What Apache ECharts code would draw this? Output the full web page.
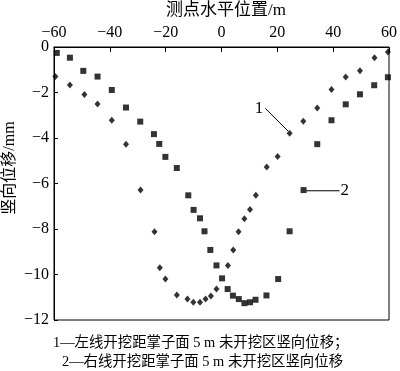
<!DOCTYPE html>
<html><head><meta charset="utf-8">
<script src="https://cdn.jsdelivr.net/npm/echarts@6/dist/echarts.min.js"></script>
<style>html,body{margin:0;padding:0;background:#fff}#c{width:400px;height:371px}</style>
</head><body><div id="c"></div>
<script>
var xLeft = [-59.5,-54.3,-49.1,-44.4,-39.3,-34.2,-29.0,-24.0,-22.1,-20.1,-16.0,-12.2,-10.1,-7.7,-5.7,-3.8,-1.8,2.3,4.2,6.1,8.2,10.2,12.3,16.2,20.1,24.4,29.3,34.3,39.4,44.5,49.6,54.8,59.6];
var yLeft = [-1.30,-1.67,-2.09,-2.50,-3.22,-4.27,-6.29,-8.12,-9.70,-10.20,-10.90,-11.08,-11.22,-11.22,-11.08,-10.95,-10.64,-9.60,-8.92,-8.12,-7.55,-7.14,-6.52,-5.28,-4.81,-3.79,-3.26,-2.68,-1.87,-1.32,-1.04,-0.47,-0.22];
var xRight = [-59.0,-54.3,-49.5,-44.4,-39.3,-34.2,-29.1,-24.2,-22.3,-20.1,-16.0,-11.9,-10.0,-7.7,-6.1,-4.0,-1.8,0.2,2.2,4.1,6.2,8.2,10.2,12.2,16.1,20.3,24.4,29.4,34.3,39.4,44.5,49.6,54.7,59.6];
var yRight = [-0.26,-0.47,-1.05,-1.30,-1.89,-2.66,-3.28,-3.83,-4.26,-4.83,-5.32,-6.52,-7.16,-7.53,-8.10,-8.92,-9.60,-10.17,-10.64,-10.93,-11.08,-11.26,-11.22,-11.11,-10.92,-10.20,-8.10,-6.29,-4.27,-3.22,-2.52,-2.08,-1.68,-1.33];
var xTicks = [-60,-40,-20,0,20,40,60];
var yTicks = [0,-2,-4,-6,-8,-10,-12];
var xName = '测点水平位置/m';
var yName = '竖向位移/mm';
var captions = ['1—左线开挖距掌子面 5 m 未开挖区竖向位移；','2—右线开挖距掌子面 5 m 未开挖区竖向位移'];
var seriesLabels = ['1','2'];

var FONT = "Liberation Serif, Noto Sans CJK SC, serif";
function zip(a,b){return a.map(function(v,i){return [v,b[i]];});}
function fmt(v){return String(v).replace('-','\u2212');}

var chart = echarts.init(document.getElementById('c'));
chart.setOption({
  animation:false,
  textStyle:{fontFamily:FONT},
  grid:{left:54,right:7,top:47,bottom:51},
  xAxis:{type:'value',position:'top',min:xTicks[0],max:xTicks[xTicks.length-1],interval:20,
    axisLine:{onZero:false,lineStyle:{color:'#000',width:1}},
    axisTick:{inside:true,length:5,lineStyle:{color:'#000'}},
    axisLabel:{color:'#000',fontSize:16,fontFamily:FONT,margin:6,formatter:fmt},
    splitLine:{show:false}},
  yAxis:{type:'value',min:yTicks[yTicks.length-1],max:yTicks[0],interval:2,
    axisLine:{onZero:false,lineStyle:{color:'#000',width:1}},
    axisTick:{inside:true,length:4,lineStyle:{color:'#000'}},
    axisLabel:{color:'#000',fontSize:16,fontFamily:FONT,margin:5,formatter:fmt},
    splitLine:{show:false}},
  series:[
    {type:'scatter',name:seriesLabels[0],data:zip(xLeft,yLeft),symbol:'diamond',symbolSize:[6,7],itemStyle:{color:'#000'}},
    {type:'scatter',name:seriesLabels[1],data:zip(xRight,yRight),symbol:'rect',symbolSize:6,itemStyle:{color:'#000'}}
  ]
});
var ann = [
  {from:[15.7,-2.70],to:[23.8,-3.69],text:seriesLabels[0],at:[13.4,-2.69],align:'center'},
  {from:[30.3,-6.32],to:[42.3,-6.32],text:seriesLabels[1],at:[42.6,-6.32],align:'left'}
];
var g = [];
ann.forEach(function(a){
  var p1 = chart.convertToPixel({gridIndex:0},a.from);
  var p2 = chart.convertToPixel({gridIndex:0},a.to);
  var pt = chart.convertToPixel({gridIndex:0},a.at);
  g.push({type:'line',shape:{x1:p1[0],y1:p1[1],x2:p2[0],y2:p2[1]},style:{stroke:'#000',lineWidth:1}});
  g.push({type:'text',x:pt[0],y:pt[1],style:{text:a.text,fill:'#000',font:'17px '+FONT,textAlign:a.align,textVerticalAlign:'middle'}});
});
g.push({type:'text',x:226,y:11,style:{text:xName,fill:'#000',font:'17px '+FONT,textAlign:'center',textVerticalAlign:'middle'}});
g.push({type:'text',x:10,y:168,rotation:Math.PI/2,style:{text:yName,fill:'#000',font:'16px '+FONT,textAlign:'center',textVerticalAlign:'middle'}});
g.push({type:'text',x:53,y:343,style:{text:captions[0],fill:'#000',font:'14.4px '+FONT,textAlign:'left',textVerticalAlign:'middle'}});
g.push({type:'text',x:62,y:362,style:{text:captions[1],fill:'#000',font:'14.4px '+FONT,textAlign:'left',textVerticalAlign:'middle'}});
var tl = chart.convertToPixel({gridIndex:0},[xTicks[0],yTicks[0]]);
var br = chart.convertToPixel({gridIndex:0},[xTicks[xTicks.length-1],yTicks[yTicks.length-1]]);
g.push({type:'rect',shape:{x:tl[0],y:tl[1],width:br[0]-tl[0],height:br[1]-tl[1]},style:{fill:null,stroke:'#000',lineWidth:1},z:-1});
chart.setOption({graphic:g});
</script></body></html>
